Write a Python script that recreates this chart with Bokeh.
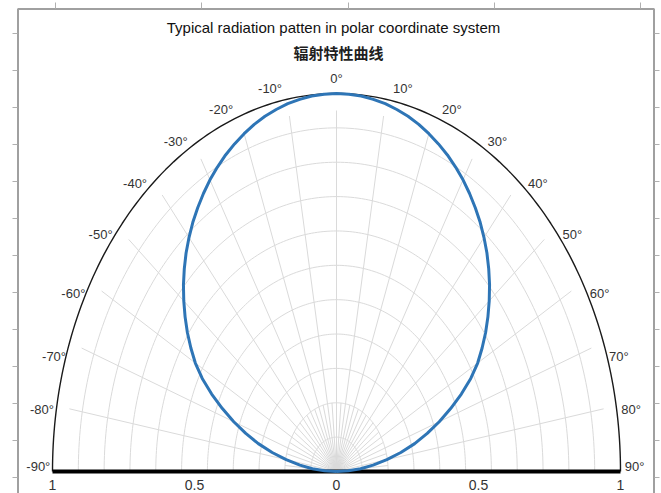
import math
from bokeh.plotting import figure
from bokeh.models import Range1d
from bokeh.embed import file_html
from bokeh.resources import INLINE
from bokeh.core.properties import value

# ---------------- data ----------------
title_en = "Typical radiation patten in polar coordinate system"
title_cn = "辐射特性曲线"

# off-axis angle (deg) and relative intensity; the pattern is symmetric about 0°
half_angles = [0, 2.5, 5, 7.5, 10, 12.5, 15, 17.5, 20, 22.5, 25, 27.5, 30, 32.5,
               35, 37.5, 40, 42.5, 45, 47.5, 50, 52.5, 55, 57.5, 60, 62.5, 65,
               67.5, 70, 72.5, 75, 77.5, 80, 82.5, 85, 87.5, 90]
half_intensity = [1.000, 0.999, 0.997, 0.993, 0.988, 0.981, 0.973, 0.963, 0.951,
                  0.938, 0.924, 0.908, 0.891, 0.872, 0.852, 0.831, 0.808, 0.784,
                  0.758, 0.731, 0.702, 0.672, 0.641, 0.608, 0.574, 0.533, 0.485,
                  0.435, 0.385, 0.335, 0.285, 0.232, 0.180, 0.130, 0.085, 0.042,
                  0.000]

angle_ticks = [-90, -80, -70, -60, -50, -40, -30, -20, -10, 0,
               10, 20, 30, 40, 50, 60, 70, 80, 90]
angle_tick_labels = [f"{a}°" for a in angle_ticks]
radius_ticks = [-1.0, -0.5, 0.0, 0.5, 1.0]
radius_tick_labels = ["1", "0.5", "0", "0.5", "1"]
ring_divisions = 11

# full curve (mirror the read half)
angles = [-a for a in reversed(half_angles[1:])] + half_angles
intensity = list(reversed(half_intensity[1:])) + half_intensity

# ---------------- layout helpers (picture pixels -> data units) ----------------
W, H = 661, 493
CX, CY = 336.0, 471.0
RX, RY = 284.0, 378.0


def X(px):
    return (px - CX) / RX


def Y(py):
    return (CY - py) / RY


def pol(theta_deg, r):
    t = math.radians(theta_deg)
    return r * math.sin(t), r * math.cos(t)


p = figure(width=W, height=H, x_range=Range1d(X(0), X(W)),
           y_range=Range1d(Y(H), Y(0)), output_backend="svg",
           toolbar_location=None, min_border=0, x_axis_location=None,
           y_axis_location=None, outline_line_color=None,
           background_fill_color="white", border_fill_color="white")
p.grid.visible = False

# outer frame of the picture with its ruler ticks
p.line([X(17.5), X(17.5), X(653.5), X(653.5)],
       [Y(H), Y(8.5), Y(8.5), Y(H)],
       line_color="#a0a0a0", line_width=2)
tick_ys = [33 + 37 * k for k in range(13)]
p.multi_line([[X(12), X(17)] for _ in tick_ys], [[Y(t), Y(t)] for t in tick_ys],
             line_color="#b0b0b0", line_width=1)
p.multi_line([[X(654), X(659)] for _ in tick_ys], [[Y(t), Y(t)] for t in tick_ys],
             line_color="#b0b0b0", line_width=1)
tick_xs = [55, 201, 348, 494, 640]
p.multi_line([[X(t), X(t)] for t in tick_xs], [[Y(2), Y(8)] for _ in tick_xs],
             line_color="#b0b0b0", line_width=1)

# grid rings
arc_t = [i * 1.0 for i in range(-90, 91)]
ring_xs, ring_ys = [], []
for k in range(1, ring_divisions):
    r = k / ring_divisions
    pts = [pol(t, r) for t in arc_t]
    ring_xs.append([q[0] for q in pts])
    ring_ys.append([q[1] for q in pts])
p.multi_line(ring_xs, ring_ys, line_color="#dadada", line_width=1)

# spokes
sp_xs, sp_ys = [], []
for a in range(-80, 81, 10):
    x1, y1 = pol(a, 0.955)
    sp_xs.append([0, x1])
    sp_ys.append([0, y1])
for a in range(-85, 86, 10):
    x1, y1 = pol(a, 2 / ring_divisions)
    sp_xs.append([0, x1])
    sp_ys.append([0, y1])
p.multi_line(sp_xs, sp_ys, line_color="#dadada", line_width=1)

# outer arc
outer = [pol(t, 1.0) for t in arc_t]
p.line([q[0] for q in outer], [q[1] for q in outer], line_color="#1a1a1a",
       line_width=1.4)

# base line
p.line([radius_ticks[0], radius_ticks[-1]], [0, 0], line_color="black",
       line_width=4, line_cap="butt")

# radiation pattern
cx, cy = [], []
for a, r in zip(angles, intensity):
    x, y = pol(a, r)
    cx.append(x)
    cy.append(y)
p.line(cx, cy, line_color="#2e75b6", line_width=3, line_join="round")

# angle labels
FONT = "Liberation Sans"
lx, ly = [], []
for a in angle_ticks:
    s = (a > 0) - (a < 0)
    off = 3 if abs(a) <= 70 else (1 if abs(a) == 80 else -0.7)
    rr = 1.04 if abs(a) <= 70 else 1.05
    x, y = pol(a + s * off, rr)
    lx.append(x)
    ly.append(y)
p.text(lx, ly, text=angle_tick_labels, text_align="center",
       text_baseline="middle", text_font=value(FONT), text_font_size="13px",
       text_color="#333333")

# radial labels under the base line
p.text(radius_ticks, [Y(484)] * len(radius_ticks), text=radius_tick_labels,
       text_align="center", text_baseline="middle", text_font=value(FONT),
       text_font_size="14px", text_color="#333333")

# titles
p.text([X(333)], [Y(27)], text=[title_en], text_align="center",
       text_baseline="middle", text_font=value(FONT), text_font_size="15px",
       text_color="#111111")
p.text([X(338)], [Y(52)], text=[title_cn], text_align="center",
       text_baseline="middle", text_font=value("Noto Sans CJK SC"),
       text_font_size="15px", text_font_style="bold", text_color="#1f1f1f")

open("out.html", "w").write(file_html(p, INLINE))
